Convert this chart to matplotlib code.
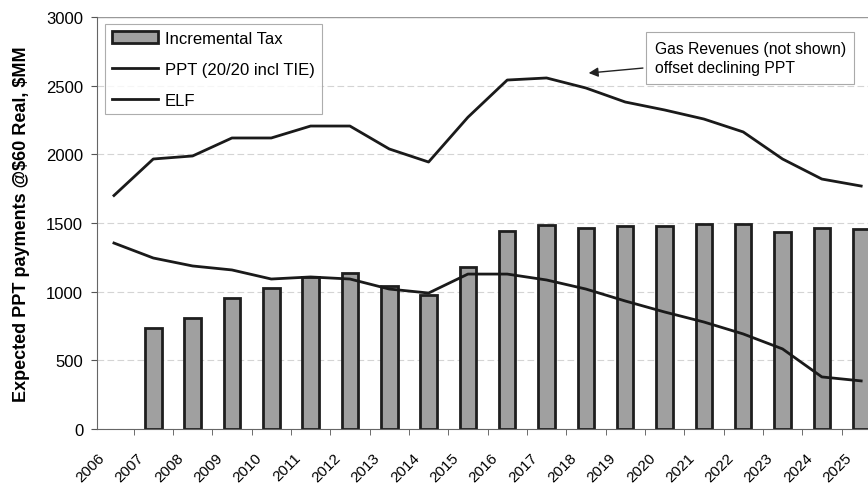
import matplotlib
matplotlib.use("Agg")
import matplotlib.pyplot as plt
import numpy as np

plt.rcParams["font.family"] = ["Liberation Sans", "DejaVu Sans"]

years = [str(y) for y in range(2006, 2026)]
incremental_tax = [np.nan, 735, 808, 954, 1026, 1109, 1136, 1041, 978, 1179,
                   1440, 1485, 1463, 1478, 1478, 1492, 1492, 1434, 1463, 1456]
ppt = [1700, 1966, 1988, 2119, 2119, 2206, 2206, 2039, 1944, 2270,
       2541, 2556, 2483, 2381, 2323, 2257, 2163, 1966, 1820, 1769]
elf = [1354, 1245, 1187, 1158, 1092, 1107, 1092, 1019, 990, 1128,
       1128, 1085, 1019, 932, 852, 779, 692, 583, 379, 350]

x = np.arange(len(years))

fig = plt.figure(figsize=(8.68, 4.89), dpi=100)
ax = fig.add_axes([0.1118, 0.1207, 0.903, 0.8425])

ax.yaxis.grid(True, color="#d4d4d4", lw=0.8, ls=(0, (6, 3)))
ax.set_axisbelow(True)

bars = ax.bar(x, incremental_tax, width=0.42, color="#a0a0a0",
              edgecolor="#1e1e1e", linewidth=2, label="Incremental Tax",
              zorder=2)
l1, = ax.plot(x, ppt, color="#1a1a1a", lw=2, label="PPT (20/20 incl TIE)", zorder=3)
l2, = ax.plot(x, elf, color="#1a1a1a", lw=2, label="ELF", zorder=3)

ax.set_xlim(-0.43, 19.5)
ax.set_ylim(0, 3000)
ax.set_yticks(range(0, 3001, 500))
# labels sit a bit left of the category centre, like the Excel original
ax.set_xticks(x - 0.42)
ax.set_xticklabels(years, rotation=45, ha="right", va="top",
                   rotation_mode="anchor", fontsize=11)
ax.set_xticks(np.arange(0.5, 19.5, 1), minor=True)
ax.tick_params(axis="x", which="major", length=0, pad=15)
ax.tick_params(axis="x", which="minor", length=4, color="#555555")
ax.tick_params(axis="y", length=4, color="#555555", labelsize=12, pad=6)

for s in ["top", "right"]:
    ax.spines[s].set_visible(False)
ax.spines["left"].set_color("#666666")
ax.spines["bottom"].set_color("#666666")
ax.axhline(3000, color="#999999", lw=1, zorder=1)

ax.set_ylabel(r"Expected PPT payments @\$60 Real, \$MM", fontsize=13,
              fontweight="bold")
ax.yaxis.set_label_coords(-0.086, 0.5)

leg = ax.legend(handles=[bars, l1, l2], loc="upper left",
                bbox_to_anchor=(0.006, 0.99), fontsize=12,
                frameon=True, fancybox=False, edgecolor="#999999",
                handlelength=2.8, handletextpad=0.4, borderaxespad=0.2,
                labelspacing=0.95)
leg.get_frame().set_linewidth(0.8)

ax.annotate("Gas Revenues (not shown)\noffset declining PPT",
            xy=(12.0, 2590), xytext=(13.75, 2700),
            fontsize=11.3, va="center", ha="left", linespacing=1.35,
            bbox=dict(boxstyle="square,pad=0.55", fc="white", ec="#aaaaaa", lw=0.8),
            arrowprops=dict(arrowstyle="-|>", color="#222222", lw=1,
                            mutation_scale=14))

fig.savefig("out.png", dpi=100)
